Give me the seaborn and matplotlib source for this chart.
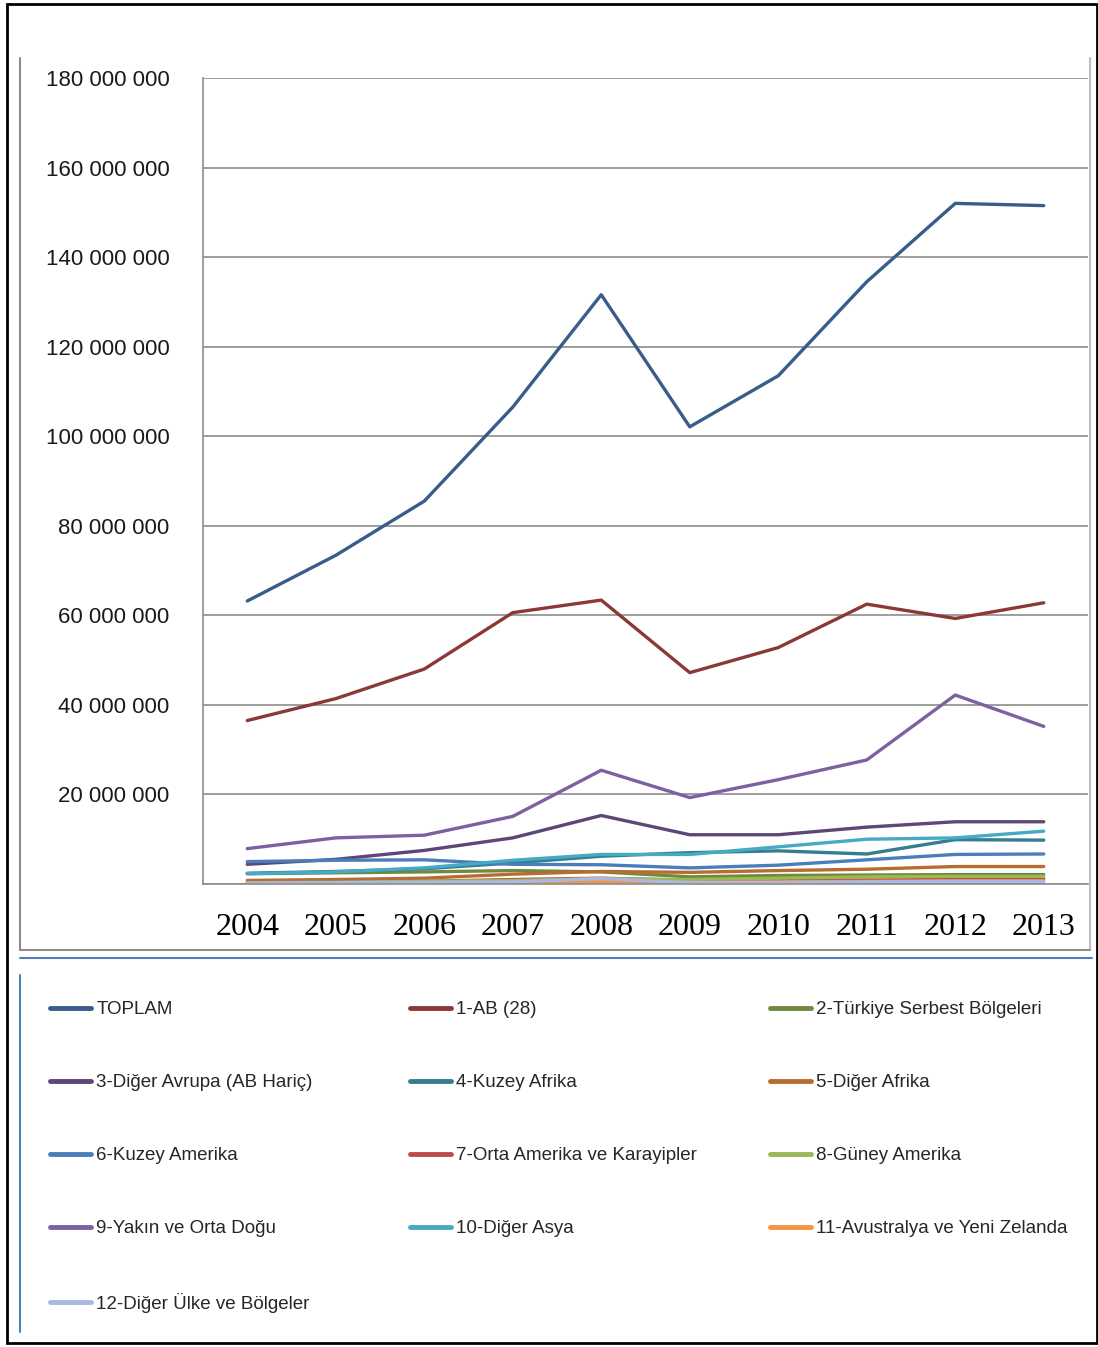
"""Türkiye ihracatı bölgelere göre, 2004-2013 (bin $) - çizgi grafiği."""
import matplotlib
matplotlib.use("Agg")
import matplotlib.pyplot as plt
from matplotlib.lines import Line2D
from matplotlib.patches import Rectangle
from matplotlib.ticker import FuncFormatter
import pandas as pd
import seaborn as sns

YEARS = [2004, 2005, 2006, 2007, 2008, 2009, 2010, 2011, 2012, 2013]

SERIES = [
    "TOPLAM",
    "1-AB (28)",
    "2-Türkiye Serbest Bölgeleri",
    "3-Diğer Avrupa (AB Hariç)",
    "4-Kuzey Afrika",
    "5-Diğer Afrika",
    "6-Kuzey Amerika",
    "7-Orta Amerika ve Karayipler",
    "8-Güney Amerika",
    "9-Yakın ve Orta Doğu",
    "10-Diğer Asya",
    "11-Avustralya ve Yeni Zelanda",
    "12-Diğer Ülke ve Bölgeler",
]

# values in millions (axis is in units)
TOPLAM = [63.2, 73.4, 85.5, 106.5, 131.6, 102.1, 113.5, 134.5, 152.0, 151.5]
AB = [36.5, 41.4, 48.0, 60.6, 63.4, 47.2, 52.8, 62.5, 59.3, 62.8]
SERBEST = [2.3, 2.5, 2.7, 3.0, 2.7, 1.6, 1.9, 2.0, 2.1, 2.1]
DIGER_AVRUPA = [4.4, 5.5, 7.5, 10.3, 15.3, 11.0, 11.0, 12.7, 13.9, 13.9]
KUZEY_AFRIKA = [2.4, 2.8, 3.4, 4.7, 6.2, 7.0, 7.4, 6.7, 9.9, 9.8]
DIGER_AFRIKA = [0.8, 1.0, 1.3, 2.2, 2.8, 2.6, 3.0, 3.3, 3.9, 3.9]
KUZEY_AMERIKA = [5.0, 5.3, 5.4, 4.4, 4.3, 3.6, 4.2, 5.4, 6.6, 6.7]
ORTA_AMERIKA = [0.3, 0.4, 0.6, 1.0, 1.3, 0.8, 0.9, 0.9, 1.0, 1.1]
GUNEY_AMERIKA = [0.3, 0.4, 0.6, 0.8, 1.2, 1.0, 1.3, 1.6, 1.7, 1.7]
YAKIN_DOGU = [7.9, 10.3, 10.9, 15.1, 25.4, 19.3, 23.3, 27.7, 42.2, 35.2]
DIGER_ASYA = [2.3, 2.7, 3.6, 5.3, 6.6, 6.6, 8.3, 10.0, 10.3, 11.8]
AVUSTRALYA = [0.2, 0.2, 0.3, 0.4, 0.5, 0.4, 0.5, 0.6, 0.7, 0.7]
DIGER_ULKE = [0.2, 0.3, 0.4, 0.5, 1.2, 0.3, 0.3, 0.5, 0.6, 0.6]

COLORS = [
    "#385D8A", "#8C3836", "#71893F", "#5C4776", "#357D91", "#B66D31",
    "#4A7EBB", "#BE4B48", "#98B954", "#7D60A0", "#46AAC5", "#F69240",
    "#A7B9E3",
]

W, H = 1098, 1347


def fx(px):
    return px / W


def fy(py):
    return 1 - py / H


all_values = [
    TOPLAM, AB, SERBEST, DIGER_AVRUPA, KUZEY_AFRIKA, DIGER_AFRIKA,
    KUZEY_AMERIKA, ORTA_AMERIKA, GUNEY_AMERIKA, YAKIN_DOGU, DIGER_ASYA,
    AVUSTRALYA, DIGER_ULKE,
]
rows = []
for name, vals in zip(SERIES, all_values):
    for i, v in enumerate(vals):
        rows.append({"seri": name, "pos": i, "deger": v})
df = pd.DataFrame(rows)
palette = dict(zip(SERIES, COLORS))

sns.set_style("white")
plt.rcParams["font.family"] = ["Liberation Sans", "DejaVu Sans"]

fig = plt.figure(figsize=(W / 100, H / 100), dpi=100)
ax = fig.add_axes([fx(203), fy(884), fx(1088) - fx(203), fy(78) - fy(884)])

sns.lineplot(
    data=df, x="pos", y="deger", hue="seri", hue_order=SERIES,
    palette=palette, linewidth=2.4, legend=False, ax=ax, sort=False,
)

grey = "#8c8c8c"
ax.set_xlim(-0.5, 9.5)
ax.set_ylim(0, 180)
ax.set_yticks(range(0, 181, 20))
ax.yaxis.set_major_formatter(
    FuncFormatter(lambda v, _: "" if v == 0 else f"{int(round(v * 1e6)):,}".replace(",", " "))
)
ax.set_xticks(range(len(YEARS)))
ax.set_xticklabels([str(y) for y in YEARS], family=["Liberation Serif", "DejaVu Serif"], fontsize=23)
ax.set_xticks([i - 0.5 for i in range(len(YEARS) + 1)], minor=True)
ax.tick_params(axis="x", which="major", length=0, pad=21, colors="black")
ax.tick_params(axis="x", which="minor", length=6, width=1.2, color=grey, direction="out")
ax.tick_params(axis="y", which="major", length=6, width=1.2, color=grey, direction="out",
               pad=18, labelsize=16, labelcolor="#1a1a1a")
ax.yaxis.grid(True, color=grey, linewidth=1.2)
ax.xaxis.grid(False)
for side in ("top", "right"):
    ax.spines[side].set_visible(False)
for side in ("left", "bottom"):
    ax.spines[side].set_color(grey)
    ax.spines[side].set_linewidth(1.2)
ax.set_xlabel("")
ax.set_ylabel("")

# chart area border and separator
frame_lines = [
    ((20, 20), (58, 950), grey),
    ((1090, 1090), (58, 950), "#bfbfbf"),
    ((20, 1090), (950, 950), grey),
    ((20, 1092), (958, 958), "#4F81BD"),
    ((20, 20), (975, 1332), "#4F81BD"),
]
for xs, ys, c in frame_lines:
    fig.add_artist(Line2D([fx(x) for x in xs], [fy(y) for y in ys],
                          transform=fig.transFigure, color=c, linewidth=1.5))
fig.add_artist(Rectangle((fx(7), fy(1343)), fx(1097) - fx(7), fy(4) - fy(1343),
                         transform=fig.transFigure, fill=False, edgecolor="black", linewidth=2))

# legend in three columns, filled row by row
handles = [Line2D([], [], color=c, linewidth=3.5) for c in COLORS]
legend_font = {"family": ["Liberation Sans", "DejaVu Sans"], "size": 13.5}
for col, x0 in enumerate((50, 410, 770)):
    idx = list(range(col, len(SERIES), 3))
    fig.legend(
        [handles[i] for i in idx], [SERIES[i] for i in idx],
        loc="upper left", bbox_to_anchor=(fx(x0), fy(1001)),
        frameon=False, borderpad=0, borderaxespad=0,
        handlelength=2.2, handletextpad=0.27, labelspacing=2.98,
        prop=legend_font,
    )

fig.savefig("out.png", dpi=100)
